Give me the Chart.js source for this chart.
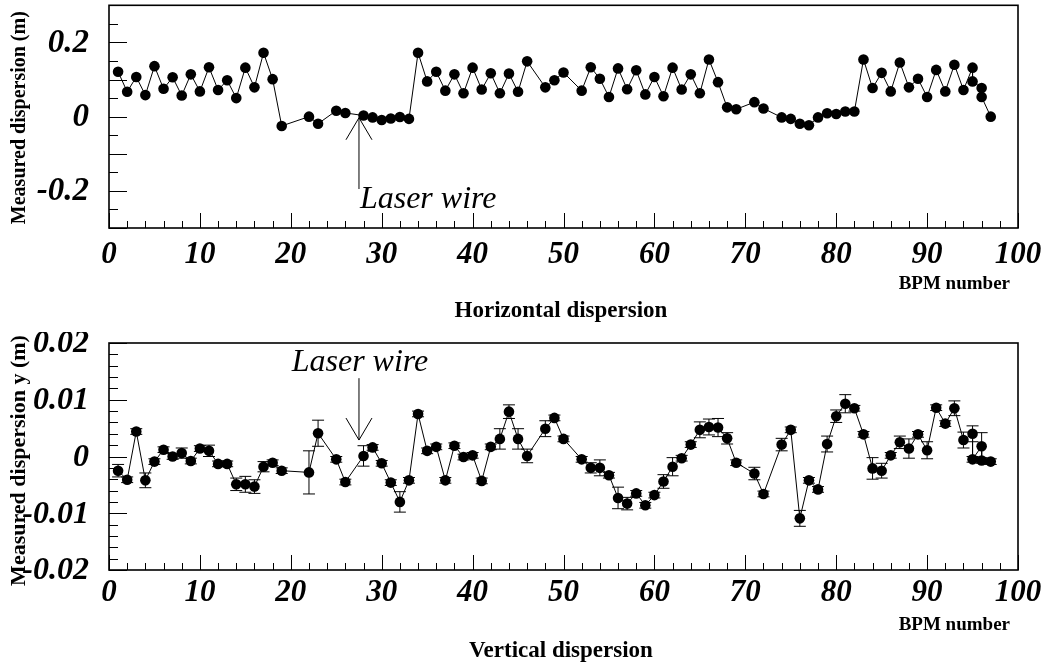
<!DOCTYPE html>
<html>
<head>
<meta charset="utf-8">
<script src="https://cdn.jsdelivr.net/npm/chart.js@4.4.1/dist/chart.umd.min.js"></script>
<style>
  html, body { margin: 0; padding: 0; background: #fff; }
  #wrap { position: relative; width: 1045px; height: 664px; }
  canvas { position: absolute; left: 0; }
</style>
</head>
<body>
<div id="wrap">
  <canvas id="hChart" width="1045" height="332" style="top:0"></canvas>
  <canvas id="vChart" width="1045" height="332" style="top:332px"></canvas>
</div>
<script>
// BPM numbers (both planes measured on the same monitors)
const bpm = [1, 2, 3, 4, 5, 6, 7, 8, 9, 10, 11, 12, 13, 14, 15, 16, 17, 18, 19, 22, 23, 25, 26,
  28, 29, 30, 31, 32, 33, 34, 35, 36, 37, 38, 39, 40, 41, 42, 43, 44, 45, 46, 48, 49, 50,
  52, 53, 54, 55, 56, 57, 58, 59, 60, 61, 62, 63, 64, 65, 66, 67, 68, 69, 71, 72,
  74, 75, 76, 77, 78, 79, 80, 81, 82, 83, 84, 85, 86, 87, 88, 89, 90, 91, 92, 93, 94, 95, 95, 96, 96, 97]

// horizontal dispersion (m)
const hDisp = [0.121, 0.067, 0.107, 0.058, 0.136, 0.075, 0.106, 0.057, 0.114, 0.068, 0.133, 0.072, 0.098, 0.050,
  0.132, 0.079, 0.172, 0.101, -0.025, 0.000, -0.019, 0.016, 0.010,
  0.003, -0.002, -0.009, -0.005, -0.001, -0.006, 0.172, 0.095, 0.121, 0.070, 0.114, 0.063, 0.132, 0.073,
  0.117, 0.063, 0.116, 0.067, 0.149, 0.079, 0.098, 0.119,
  0.070, 0.133, 0.102, 0.053, 0.130, 0.074, 0.125, 0.060, 0.107, 0.055, 0.132, 0.073, 0.114, 0.063, 0.154,
  0.093, 0.025, 0.020, 0.039, 0.022,
  -0.002, -0.006, -0.019, -0.023, -0.002, 0.009, 0.007, 0.014, 0.014, 0.154, 0.077, 0.118, 0.068, 0.146,
  0.079, 0.102, 0.053, 0.126, 0.068, 0.140, 0.072, 0.132, 0.095, 0.077, 0.053, 0.000]

// vertical dispersion (m) and its error
const vDisp = [-0.0025, -0.0041, 0.0044, -0.0042, -0.0009, 0.0012, 0.0000, 0.0006, -0.0008, 0.0014, 0.0010, -0.0013,
  -0.0013, -0.0049, -0.0049, -0.0053, -0.0018, -0.0011, -0.0025, -0.0028, 0.0041, -0.0005, -0.0045,
  0.0001, 0.0016, -0.0012, -0.0046, -0.0080, -0.0042, 0.0075, 0.0010, 0.0017, -0.0042, 0.0019, -0.0001,
  0.0002, -0.0043, 0.0017, 0.0031, 0.0079, 0.0031, 0.0001, 0.0049, 0.0068, 0.0031,
  -0.0005, -0.0020, -0.0020, -0.0033, -0.0073, -0.0083, -0.0065, -0.0086, -0.0068, -0.0044, -0.0018, -0.0003,
  0.0021, 0.0047, 0.0052, 0.0051, 0.0032, -0.0011, -0.0030, -0.0066,
  0.0021, 0.0047, -0.0109, -0.0042, -0.0058, 0.0022, 0.0071, 0.0093, 0.0085, 0.0039, -0.0021, -0.0025,
  0.0002, 0.0025, 0.0014, 0.0039, 0.0011, 0.0086, 0.0058, 0.0085, 0.0029, 0.0040, -0.0005, 0.0018, -0.0007, -0.0009]
const vErr = [0.0011, 0.0005, 0.0005, 0.0013, 0.0005, 0.0005, 0.0005, 0.0009, 0.0005, 0.0005, 0.0010, 0.0005,
  0.0005, 0.0011, 0.0014, 0.0012, 0.0009, 0.0005, 0.0005, 0.0038, 0.0023, 0.0005, 0.0005,
  0.0018, 0.0005, 0.0005, 0.0005, 0.0018, 0.0005, 0.0005, 0.0005, 0.0005, 0.0005, 0.0005, 0.0005,
  0.0005, 0.0005, 0.0005, 0.0018, 0.0012, 0.0018, 0.0012, 0.0014, 0.0005, 0.0005,
  0.0005, 0.0009, 0.0014, 0.0005, 0.0019, 0.0011, 0.0005, 0.0005, 0.0005, 0.0012, 0.0016, 0.0005,
  0.0005, 0.0014, 0.0014, 0.0016, 0.0010, 0.0005, 0.0011, 0.0005,
  0.0011, 0.0005, 0.0014, 0.0005, 0.0005, 0.0014, 0.0011, 0.0016, 0.0005, 0.0005, 0.0019, 0.0013,
  0.0005, 0.0011, 0.0017, 0.0005, 0.0015, 0.0005, 0.0005, 0.0013, 0.0014, 0.0014, 0.0005, 0.0024, 0.0005, 0.0005]

const xTicks = [0, 10, 20, 30, 40, 50, 60, 70, 80, 90, 100]
const hTicks = [-0.2, 0, 0.2]
const hTickLabels = ['-0.2', '0', '0.2']
const vTicks = [-0.02, -0.01, 0, 0.01, 0.02]
const vTickLabels = ['-0.02', '-0.01', '0', '0.01', '0.02']

const SERIF = '"Liberation Serif", "Times New Roman", serif'

function seg(ctx, x1, y1, x2, y2) {
  ctx.beginPath()
  ctx.moveTo(x1, y1)
  ctx.lineTo(x2, y2)
  ctx.stroke()
}

// ROOT-like frame: ticks inside the box, big bold italic labels outside
const rootFrame = {
  id: 'rootFrame',
  afterDraw(chart, args, o) {
    const { ctx, chartArea: a } = chart
    const x = chart.scales.x, y = chart.scales.y
    ctx.save()
    ctx.strokeStyle = '#000'
    ctx.lineWidth = 1
    for (let v = 0; v <= 100; v += 2) {
      const px = Math.round(x.getPixelForValue(v)) + 0.5
      seg(ctx, px, a.bottom, px, a.bottom - (v % 10 === 0 ? 15 : 7))
    }
    const n = Math.round((o.yMax - o.yMin) / o.yMinor)
    for (let i = 0; i <= n; i++) {
      const v = o.yMin + i * o.yMinor
      const major = Math.abs(v / o.yMajor - Math.round(v / o.yMajor)) < 1e-6
      const py = Math.round(y.getPixelForValue(v)) + 0.5
      seg(ctx, a.left, py, a.left + (major ? 18 : 9), py)
    }
    ctx.lineWidth = 1.6
    ctx.strokeRect(a.left, a.top, a.right - a.left, a.bottom - a.top)

    ctx.fillStyle = '#000'
    ctx.font = 'bold italic 31px ' + SERIF
    ctx.textAlign = 'center'
    ctx.textBaseline = 'alphabetic'
    xTicks.forEach(v => ctx.fillText(String(v), x.getPixelForValue(v), a.bottom + o.gaps[0]))
    ctx.font = 'bold italic ' + o.yLabelSize + 'px ' + SERIF
    ctx.textAlign = 'right'
    ctx.textBaseline = 'middle'
    o.ticks.forEach((v, i) => ctx.fillText(o.tickLabels[i], a.left - 20, y.getPixelForValue(v) + 1))

    ctx.textBaseline = 'alphabetic'
    ctx.font = 'bold 19px ' + SERIF
    ctx.fillText('BPM number', 1010, a.bottom + o.gaps[1])
    ctx.font = 'bold 23px ' + SERIF
    ctx.textAlign = 'center'
    ctx.fillText(o.title, 561, a.bottom + o.gaps[2])

    ctx.save()
    ctx.translate(25, (a.top + a.bottom) / 2 + o.yTitleShift)
    ctx.rotate(-Math.PI / 2)
    ctx.font = 'bold ' + o.yTitleSize + 'px ' + SERIF
    ctx.textAlign = 'center'
    ctx.fillText(o.yTitle, 0, 0)
    ctx.restore()

    // "Laser wire" marker
    const ax = x.getPixelForValue(o.wire.x)
    const tip = y.getPixelForValue(o.wire.tip)
    const tail = y.getPixelForValue(o.wire.tail)
    const dir = Math.sign(tail - tip)
    ctx.lineWidth = 1
    seg(ctx, ax, tip, ax, tail)
    seg(ctx, ax, tip, ax - 13, tip + dir * 22)
    seg(ctx, ax, tip, ax + 13, tip + dir * 22)
    ctx.font = 'italic 32px ' + SERIF
    ctx.textAlign = 'left'
    ctx.fillText('Laser wire', x.getPixelForValue(o.wire.textX), y.getPixelForValue(o.wire.textY))
    ctx.restore()
  }
}

// vertical error bars with small caps
const errorBars = {
  id: 'errorBars',
  beforeDatasetsDraw(chart, args, o) {
    if (!o.err) return
    const { ctx } = chart
    const x = chart.scales.x, y = chart.scales.y
    ctx.save()
    ctx.strokeStyle = '#000'
    ctx.lineWidth = 1
    chart.data.datasets[0].data.forEach((p, i) => {
      const px = x.getPixelForValue(p.x)
      const hi = y.getPixelForValue(p.y + o.err[i])
      const lo = y.getPixelForValue(p.y - o.err[i])
      seg(ctx, px, hi, px, lo)
      seg(ctx, px - 6, hi, px + 6, hi)
      seg(ctx, px - 6, lo, px + 6, lo)
    })
    ctx.restore()
  }
}

function makeChart(id, values, opts) {
  return new Chart(document.getElementById(id), {
    type: 'line',
    data: {
      datasets: [{
        data: bpm.map((b, i) => ({ x: b, y: values[i] })),
        borderColor: '#000',
        borderWidth: 1,
        pointRadius: 5.3,
        pointBackgroundColor: '#000',
        pointBorderWidth: 0,
        tension: 0
      }]
    },
    options: {
      responsive: false,
      animation: false,
      events: [],
      layout: { padding: opts.padding },
      scales: {
        x: { type: 'linear', min: 0, max: 100, display: false },
        y: { type: 'linear', min: opts.yMin, max: opts.yMax, display: false }
      },
      plugins: {
        legend: { display: false },
        tooltip: { enabled: false },
        rootFrame: opts,
        errorBars: { err: opts.err }
      }
    },
    plugins: [errorBars, rootFrame]
  })
}

makeChart('hChart', hDisp, {
  padding: { left: 109, right: 27, top: 3, bottom: 104 },
  yMin: -0.3, yMax: 0.3, yMajor: 0.1, yMinor: 0.05,
  ticks: hTicks, tickLabels: hTickLabels, yLabelSize: 33,
  yTitle: 'Measured dispersion (m)', yTitleSize: 20, yTitleShift: 1,
  title: 'Horizontal dispersion',
  gaps: [35, 61, 89],
  wire: { x: 27.5, tip: -0.003, tail: -0.195, textX: 27.6, textY: -0.247 }
})

makeChart('vChart', vDisp, {
  padding: { left: 109, right: 27, top: 11, bottom: 94 },
  yMin: -0.02, yMax: 0.02, yMajor: 0.01, yMinor: 0.002,
  ticks: vTicks, tickLabels: vTickLabels, yLabelSize: 32,
  yTitle: 'Measured dispersion y (m)', yTitleSize: 22, yTitleShift: 4,
  title: 'Vertical dispersion',
  gaps: [31, 60, 87],
  err: vErr,
  wire: { x: 27.5, tip: 0.0029, tail: 0.0138, textX: 20.1, textY: 0.015 }
})
</script>
</body>
</html>
